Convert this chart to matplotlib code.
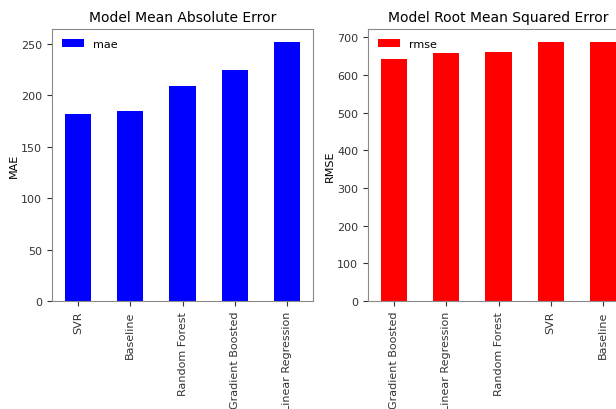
import matplotlib
matplotlib.use("Agg")
import matplotlib.pyplot as plt
import pandas as pd

mae_models = ["SVR", "Baseline", "Random Forest", "Gradient Boosted", "Linear Regression"]
mae_values = [182, 185, 209, 225, 252]

rmse_models = ["Gradient Boosted", "Linear Regression", "Random Forest", "SVR", "Baseline"]
rmse_values = [644, 658, 661, 688, 688]

fig = plt.figure(figsize=(6.16, 4.10), dpi=100)
fig.patch.set_facecolor("white")

# axes placed in pixels of the 616x410 canvas; the right panel runs off the edge
W, H = 616, 410
ax1 = fig.add_axes([52 / W, (H - 302) / H, 261 / W, 272 / H])
ax2 = fig.add_axes([368 / W, (H - 302) / H, 261 / W, 272 / H])

df_mae = pd.DataFrame({"mae": mae_values}, index=mae_models)
df_rmse = pd.DataFrame({"rmse": rmse_values}, index=rmse_models)

df_mae.plot.bar(ax=ax1, color="blue")
df_rmse.plot.bar(ax=ax2, color="red")

ax1.set_title("Model Mean Absolute Error", fontsize=10)
ax1.set_ylabel("MAE", fontsize=8, labelpad=2)
ax2.set_title("Model Root Mean Squared Error", fontsize=10)
ax2.set_ylabel("RMSE", fontsize=8, labelpad=2)

for ax in (ax1, ax2):
    ax.tick_params(labelsize=8, colors="#333333")
    for sp in ax.spines.values():
        sp.set_edgecolor("#8a8a8a")
    ax.legend(loc="upper left", fontsize=8, edgecolor="none", framealpha=0.8)

fig.savefig("out.png", dpi=100)
